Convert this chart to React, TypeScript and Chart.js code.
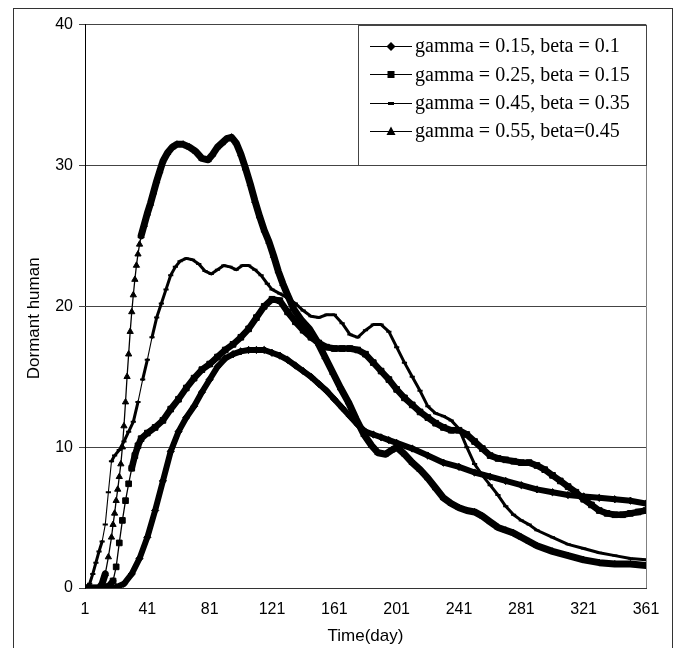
import React, { useEffect, useRef } from 'react';
import { Chart, registerables } from 'chart.js';

Chart.register(...registerables);

// ---------- data ----------
const xTickValues = [1, 41, 81, 121, 161, 201, 241, 281, 321, 361];
const yTickValues = [0, 10, 20, 30, 40];
const xTitle = 'Time(day)';
const yTitle = 'Dormant human';

const seriesLabels = [
  'gamma = 0.15, beta = 0.1',
  'gamma = 0.25, beta = 0.15',
  'gamma = 0.45, beta = 0.35',
  'gamma = 0.55, beta=0.45',
];

const s1Days = [1, 11, 21, 26, 31, 36, 41, 46, 51, 56, 61, 66, 71, 76, 81, 86, 91, 96, 101, 106, 111, 116, 121, 126, 131, 136, 141, 146, 151, 156, 161, 166, 171, 176, 181, 186, 191, 196, 201, 211, 221, 231, 241, 251, 261, 271, 281, 291, 301, 311, 321, 331, 341, 351, 361];
const s1Values = [0, 0, 0.05, 0.3, 1.0, 2.1, 3.6, 5.5, 7.6, 9.7, 11.1, 12.1, 12.9, 13.9, 14.8, 15.7, 16.3, 16.6, 16.8, 16.9, 16.9, 16.9, 16.7, 16.5, 16.2, 15.8, 15.4, 15.0, 14.5, 14.0, 13.4, 12.8, 12.2, 11.6, 11.1, 10.9, 10.7, 10.5, 10.3, 9.9, 9.4, 8.9, 8.6, 8.2, 7.9, 7.6, 7.3, 7.0, 6.8, 6.6, 6.5, 6.4, 6.3, 6.2, 6.0];

const s2Days = [1, 11, 16, 19, 21, 23, 25, 27, 29, 31, 33, 35, 37, 41, 46, 51, 56, 61, 66, 71, 76, 81, 86, 91, 96, 101, 106, 111, 116, 121, 126, 131, 136, 141, 146, 151, 156, 161, 166, 171, 176, 181, 186, 191, 196, 201, 206, 211, 216, 221, 226, 231, 236, 241, 246, 251, 256, 261, 266, 271, 276, 281, 286, 291, 296, 301, 306, 311, 316, 321, 326, 331, 336, 341, 346, 351, 356, 361];
const s2Values = [0, 0, 0.1, 0.5, 1.5, 3.2, 4.8, 6.2, 7.4, 8.5, 9.4, 10.1, 10.6, 11.0, 11.4, 11.9, 12.7, 13.4, 14.2, 14.9, 15.5, 15.9, 16.4, 16.9, 17.3, 17.8, 18.4, 19.2, 20.0, 20.5, 20.4, 19.6, 18.9, 18.3, 17.8, 17.4, 17.1, 17.0, 17.0, 17.0, 16.9, 16.6, 16.0, 15.4, 14.8, 14.1, 13.5, 13.0, 12.5, 12.1, 11.7, 11.4, 11.2, 11.2, 10.9, 10.4, 9.9, 9.4, 9.2, 9.1, 9.0, 8.9, 8.9, 8.7, 8.4, 8.0, 7.6, 7.2, 6.8, 6.3, 5.9, 5.5, 5.3, 5.2, 5.2, 5.3, 5.4, 5.5];

const s3Days = [1, 4, 6, 8, 10, 12, 14, 16, 18, 20, 23, 26, 29, 32, 35, 38, 41, 44, 47, 50, 53, 56, 59, 62, 66, 70, 74, 78, 82, 86, 90, 94, 98, 102, 106, 110, 114, 118, 121, 126, 131, 136, 141, 146, 151, 156, 161, 166, 171, 176, 181, 186, 191, 196, 201, 206, 211, 216, 221, 226, 231, 236, 241, 246, 251, 256, 261, 266, 271, 276, 281, 286, 291, 301, 311, 321, 331, 341, 351, 361];
const s3Values = [0, 0.3, 1.0, 1.8, 2.6, 3.3, 4.5, 6.8, 9.0, 9.4, 9.8, 10.4, 11.1, 11.8, 13.2, 14.8, 16.2, 17.8, 19.2, 20.2, 21.2, 22.2, 22.8, 23.2, 23.4, 23.3, 23.0, 22.5, 22.3, 22.6, 22.9, 22.8, 22.6, 22.9, 22.9, 22.6, 22.2, 21.6, 21.2, 20.9, 20.6, 20.2, 19.7, 19.3, 19.2, 19.4, 19.4, 18.8, 18.0, 17.8, 18.3, 18.7, 18.7, 18.2, 17.1, 16.0, 15.0, 14.0, 12.9, 12.4, 12.2, 11.9, 11.3, 10.0, 8.8, 8.0, 7.3, 6.6, 5.8, 5.2, 4.8, 4.5, 4.1, 3.6, 3.1, 2.8, 2.5, 2.3, 2.1, 2.0];

const s4Days = [1, 10, 12, 14, 16, 18, 19, 20, 21, 22, 23, 24, 25, 26, 27, 28, 29, 30, 31, 32, 33, 34, 35, 36, 37, 39, 41, 43, 45, 47, 49, 51, 54, 57, 60, 64, 68, 72, 76, 80, 83, 86, 89, 92, 95, 98, 101, 104, 107, 110, 113, 116, 119, 122, 125, 128, 131, 135, 140, 145, 150, 155, 160, 165, 170, 175, 180, 185, 189, 194, 198, 201, 206, 211, 216, 221, 226, 231, 236, 241, 246, 251, 256, 261, 266, 271, 276, 281, 286, 291, 301, 311, 321, 331, 341, 351, 361];
const s4Values = [0, 0, 0.3, 1.0, 2.2, 3.6, 4.5, 5.3, 6.2, 7.0, 7.9, 8.8, 10.0, 11.5, 13.2, 15.0, 16.6, 18.2, 19.6, 20.8, 21.9, 22.9, 23.7, 24.4, 25.0, 25.8, 26.6, 27.3, 28.1, 28.9, 29.6, 30.3, 30.9, 31.3, 31.5, 31.5, 31.3, 31.0, 30.5, 30.4, 30.8, 31.3, 31.6, 31.9, 32.0, 31.6, 30.8, 29.8, 28.7, 27.5, 26.4, 25.4, 24.6, 23.6, 22.5, 21.6, 20.8, 19.8, 19.0, 18.4, 17.5, 16.4, 15.3, 14.2, 13.2, 12.0, 10.9, 10.1, 9.6, 9.5, 9.8, 10.0, 9.5, 8.9, 8.4, 7.8, 7.1, 6.4, 6.0, 5.7, 5.5, 5.4, 5.1, 4.7, 4.3, 4.1, 3.9, 3.6, 3.3, 3.0, 2.6, 2.3, 2.0, 1.8, 1.7, 1.7, 1.6];

// ---------- styling ----------
const markerStyles = ['rectRot', 'rect', 'line', 'triangle'];
const markerRadii = [3.6, 4, 2.6, 3.6];
const thickWidths = [6, 6.5, 3, 7];
const thinWidths = [1.3, 1.3, 1.1, 1.3];
const sansFont = '"Liberation Sans", Arial, sans-serif';

const toPoints = (days: number[], vals: number[]) => days.map((d, i) => ({ x: d, y: vals[i] }));

const segWidth = (thick: number, thin: number) => (ctx: any) => {
  const dx = Math.abs(ctx.p1.x - ctx.p0.x);
  const dy = Math.abs(ctx.p1.y - ctx.p0.y);
  return dy > 4.5 * dx ? thin : thick;
};

function drawMarker(ctx: CanvasRenderingContext2D, style: string, x: number, y: number) {
  ctx.save();
  ctx.fillStyle = '#000';
  ctx.beginPath();
  if (style === 'rectRot') {
    ctx.moveTo(x, y - 4.5);
    ctx.lineTo(x + 4.5, y);
    ctx.lineTo(x, y + 4.5);
    ctx.lineTo(x - 4.5, y);
    ctx.closePath();
    ctx.fill();
  } else if (style === 'rect') {
    ctx.rect(x - 3.5, y - 3.5, 7, 7);
    ctx.fill();
  } else if (style === 'line') {
    ctx.rect(x - 3, y - 1.5, 6, 3);
    ctx.fill();
  } else {
    ctx.moveTo(x, y - 5);
    ctx.lineTo(x + 4.5, y + 3.5);
    ctx.lineTo(x - 4.5, y + 3.5);
    ctx.closePath();
    ctx.fill();
  }
  ctx.restore();
}

const framePlugin = {
  id: 'frame',
  beforeDatasetsDraw(chart: any) {
    const { ctx, chartArea: ca } = chart;
    ctx.save();
    ctx.strokeStyle = '#808080';
    ctx.lineWidth = 1;
    ctx.beginPath();
    ctx.moveTo(Math.round(ca.right) + 0.5, ca.top);
    ctx.lineTo(Math.round(ca.right) + 0.5, ca.bottom);
    ctx.stroke();
    ctx.restore();
  },
  afterDraw(chart: any) {
    const { ctx, chartArea: ca } = chart;
    // y-axis title
    ctx.save();
    ctx.fillStyle = '#000';
    ctx.font = `17px ${sansFont}`;
    ctx.textAlign = 'center';
    ctx.textBaseline = 'middle';
    ctx.translate(20, (ca.top + ca.bottom) / 2 + 12);
    ctx.rotate(-Math.PI / 2);
    ctx.fillText(yTitle, 0, 0);
    ctx.restore();

    // legend
    const bx = Math.round(ca.right) - 288;
    const by = Math.round(ca.top);
    const bw = 289;
    const bh = 141;
    ctx.save();
    ctx.fillStyle = '#fff';
    ctx.fillRect(bx, by, bw, bh);
    ctx.strokeStyle = '#444';
    ctx.lineWidth = 1;
    ctx.strokeRect(bx + 0.5, by + 0.5, bw - 1, bh - 1);
    ctx.font = '20px "Liberation Serif", "Times New Roman", serif';
    ctx.textBaseline = 'middle';
    ctx.textAlign = 'left';
    seriesLabels.forEach((label, i) => {
      const cy = by + 21 + i * 28.4;
      ctx.strokeStyle = '#000';
      ctx.lineWidth = 1.2;
      ctx.beginPath();
      ctx.moveTo(bx + 12, Math.round(cy) + 0.5);
      ctx.lineTo(bx + 54, Math.round(cy) + 0.5);
      ctx.stroke();
      drawMarker(ctx, markerStyles[i], bx + 33, Math.round(cy) + 0.5);
      ctx.fillStyle = '#000';
      ctx.fillText(label, bx + 57, cy + 1);
    });
    ctx.restore();
  },
};

export default function App() {
  const canvasRef = useRef<HTMLCanvasElement | null>(null);

  useEffect(() => {
    document.documentElement.style.overflow = 'hidden';
    document.body.style.overflow = 'hidden';
    const canvas = canvasRef.current;
    if (!canvas) return;
    const seriesData = [
      toPoints(s1Days, s1Values),
      toPoints(s2Days, s2Values),
      toPoints(s3Days, s3Values),
      toPoints(s4Days, s4Values),
    ];
    const chart = new Chart(canvas, {
      type: 'line',
      data: {
        datasets: seriesData.map((pts, i) => ({
          label: seriesLabels[i],
          data: pts,
          borderColor: '#000',
          backgroundColor: '#000',
          borderWidth: thickWidths[i],
          borderJoinStyle: 'round',
          borderCapStyle: 'round',
          pointStyle: markerStyles[i] as any,
          pointRadius: markerRadii[i],
          pointBorderWidth: i === 2 ? 2 : 1,
          pointBackgroundColor: '#000',
          pointBorderColor: '#000',
          tension: 0,
          fill: false,
          segment: { borderWidth: segWidth(thickWidths[i], thinWidths[i]) },
        })),
      },
      options: {
        responsive: false,
        animation: false,
        devicePixelRatio: 1,
        events: [],
        layout: { padding: { left: 0, right: 26, top: 15, bottom: 0 } },
        plugins: {
          legend: { display: false },
          tooltip: { enabled: false },
        },
        scales: {
          x: {
            type: 'linear',
            min: 1,
            max: 361,
            afterBuildTicks: (axis: any) => {
              axis.ticks = xTickValues.map((v) => ({ value: v }));
            },
            afterFit: (scale: any) => {
              scale.height = 61;
            },
            grid: { display: false, drawTicks: false },
            border: { display: true, color: '#333', width: 1 },
            ticks: {
              autoSkip: false,
              maxRotation: 0,
              padding: 12,
              color: '#000',
              font: { family: sansFont, size: 16 },
            },
            title: {
              display: true,
              text: xTitle,
              color: '#000',
              padding: { top: 0, bottom: 2 },
              font: { family: sansFont, size: 17 },
            },
          },
          y: {
            type: 'linear',
            min: 0,
            max: 40,
            afterBuildTicks: (axis: any) => {
              axis.ticks = yTickValues.map((v) => ({ value: v }));
            },
            afterFit: (scale: any) => {
              scale.width = 71;
            },
            grid: { display: true, color: '#444', lineWidth: 1, drawTicks: true, tickLength: 6 },
            border: { display: true, color: '#000', width: 1 },
            ticks: {
              padding: 6,
              color: '#000',
              font: { family: sansFont, size: 16 },
            },
            title: { display: false },
          },
        },
      },
      plugins: [framePlugin],
    } as any);
    return () => chart.destroy();
  }, []);

  return (
    <div
      style={{
        position: 'fixed',
        left: 13,
        top: 8,
        width: 660,
        height: 645,
        border: '1px solid #333',
        boxSizing: 'border-box',
        background: '#fff',
      }}
    >
      <canvas
        ref={canvasRef}
        width={658}
        height={640}
        style={{ position: 'absolute', left: 0, top: 0, width: 658, height: 640 }}
      />
    </div>
  );
}
